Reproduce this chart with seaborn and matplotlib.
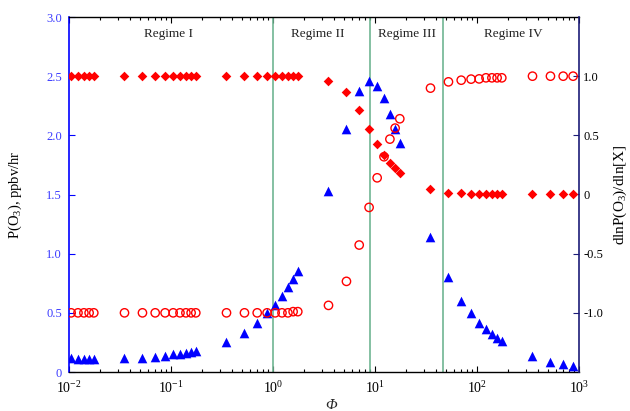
import matplotlib
matplotlib.use("Agg")
import matplotlib.pyplot as plt
import seaborn as sns
import numpy as np
from matplotlib.ticker import FixedLocator, LogLocator, NullFormatter

# ---------------- data ----------------
phi = [0.0105, 0.01225, 0.014, 0.01575, 0.0175,
       0.035, 0.0525, 0.07, 0.0875, 0.105, 0.1225, 0.14, 0.1575, 0.175,
       0.35, 0.525, 0.7, 0.875, 1.05, 1.225, 1.4, 1.575, 1.75,
       3.5, 5.25, 7.0, 8.75, 10.5, 12.25, 14.0, 15.75, 17.5,
       35, 52.5, 70, 87.5, 105, 122.5, 140, 157.5, 175,
       350, 525, 700, 875]

p_o3 = [0.12, 0.11, 0.11, 0.11, 0.11,
        0.115, 0.115, 0.124, 0.138, 0.152, 0.152, 0.163, 0.172, 0.18,
        0.256, 0.332, 0.411, 0.496, 0.563, 0.642, 0.72, 0.788, 0.856,
        1.526, 2.055, 2.376, 2.46, 2.421, 2.317, 2.179, 2.05, 1.931,
        1.137, 0.80, 0.602, 0.501, 0.411, 0.36, 0.318, 0.284, 0.259,
        0.135, 0.082, 0.065, 0.053]

sens_diamond = [1.0, 1.0, 1.0, 1.0, 1.0,
                1.0, 1.0, 1.0, 1.0, 1.0, 1.0, 1.0, 1.0, 1.0,
                1.0, 1.0, 1.0, 1.0, 1.0, 1.0, 1.0, 1.0, 1.0,
                0.958, 0.862, 0.71, 0.555, 0.428, 0.33, 0.268, 0.223, 0.178,
                0.043, 0.014, 0.014, 0.006, 0.006, 0.006, 0.001, 0.0, 0.0,
                0.0, 0.0, 0.0, 0.0]

sens_circle = [-1.0, -1.0, -1.0, -1.0, -1.0,
               -1.0, -1.0, -1.0, -1.0, -1.0, -1.0, -1.0, -1.0, -1.0,
               -1.0, -1.0, -1.0, -1.0, -1.0, -1.0, -1.0, -0.99, -0.99,
               -0.937, -0.734, -0.427, -0.109, 0.141, 0.319, 0.468, 0.561, 0.64,
               0.899, 0.952, 0.966, 0.975, 0.977, 0.986, 0.986, 0.986, 0.986,
               1.0, 1.0, 1.0, 1.0]

regime_bounds = [1.0, 8.9, 46.0]
regime_names = ["Regime I", "Regime II", "Regime III", "Regime IV"]
regime_label_x = [0.0935, 2.76, 20.6, 225.0]

x_ticks = [1e-2, 1e-1, 1e0, 1e1, 1e2, 1e3]
x_tick_labels = [r"$10^{-2}$", r"$10^{-1}$", r"$10^{0}$", r"$10^{1}$", r"$10^{2}$", r"$10^{3}$"]
left_ticks = [0, 0.5, 1.0, 1.5, 2.0, 2.5, 3.0]
left_tick_labels = ["0", "0.5", "1.0", "1.5", "2.0", "2.5", "3.0"]
right_ticks = [-1.0, -0.5, 0, 0.5, 1.0]
right_tick_labels = ["-1.0", "-0.5", "0", "0.5", "1.0"]

# ---------------- style ----------------
sns.set_style("ticks")
plt.rcParams["font.family"] = ["Liberation Serif", "DejaVu Serif"]
plt.rcParams["mathtext.fontset"] = "custom"
plt.rcParams["mathtext.rm"] = "Liberation Serif"
plt.rcParams["mathtext.it"] = "Liberation Serif:italic"

RED = "#ff0000"
BLUE = "#0000ff"
GREEN = "#6fb592"
NAVY = "#1c1c78"

fig = plt.figure(figsize=(6.3, 4.11), dpi=100)
ax = fig.add_axes([69/630, 1 - 372/411, (579-69)/630, (372-17)/411])
ax2 = ax.twinx()

# regime boundary lines
for b in regime_bounds:
    ax.axvline(b, color=GREEN, lw=1.2, zorder=1)

# blue triangles on left axis
sns.scatterplot(x=phi, y=p_o3, ax=ax, marker="^", color=BLUE, s=48,
                linewidth=0, zorder=3, legend=False)

# red markers on right axis
sns.scatterplot(x=phi, y=sens_circle, ax=ax2, marker="o", color=RED, s=36,
                linewidth=1.0, zorder=3, legend=False)
coll = ax2.collections[-1]
coll.set_facecolor("none")
coll.set_edgecolor(RED)
sns.scatterplot(x=phi, y=sens_diamond, ax=ax2, marker="D", color=RED, s=24,
                linewidth=0, zorder=4, legend=False)

ax.set_xscale("log")
ax.set_xlim(1e-2, 1e3)
ax.set_ylim(0, 3.0)
ax2.set_ylim(-1.5, 1.5)

ax.xaxis.set_major_locator(FixedLocator(x_ticks))
ax.set_xticklabels(x_tick_labels, fontsize=10)
ax.xaxis.set_minor_locator(LogLocator(base=10, subs=np.arange(2, 10)))
ax.xaxis.set_minor_formatter(NullFormatter())

ax.set_yticks(left_ticks)
ax.set_yticklabels(left_tick_labels, fontsize=9, color="#3b3bff")
ax2.set_yticks(right_ticks)
ax2.set_yticklabels(right_tick_labels, fontsize=9, color="black")

ax.tick_params(axis="x", which="both", direction="in", top=True, bottom=True,
               colors="black", pad=6)
ax.tick_params(axis="x", which="major", length=4, width=0.8)
ax.tick_params(axis="x", which="minor", length=2.5, width=0.8)
ax.tick_params(axis="y", which="both", direction="in", left=True, right=False,
               length=4, width=0.8, color=BLUE, pad=5)
ax2.tick_params(axis="y", which="both", direction="in", right=True, left=False,
                length=4, width=0.8, color=NAVY, pad=3)

for name in ["top", "bottom"]:
    ax.spines[name].set_color("black")
    ax.spines[name].set_linewidth(1.0)
    ax2.spines[name].set_visible(False)
ax.spines["left"].set_color(BLUE)
ax.spines["left"].set_linewidth(1.2)
ax.spines["right"].set_visible(False)
ax2.spines["left"].set_visible(False)
ax2.spines["right"].set_color(NAVY)
ax2.spines["right"].set_linewidth(1.2)
ax2.spines["right"].set_visible(True)
ax.spines["top"].set_visible(True)

ax.set_xlabel("Φ", fontsize=11, fontstyle="italic")
ax.xaxis.set_label_coords((331 - 69) / 510, -(399 - 372) / 355)
ax.set_ylabel(r"P(O$_3$), ppbv/hr", fontsize=10.5, color="black")
ax.yaxis.set_label_coords(-(69 - 24) / 510, 0.5)
ax2.set_ylabel(r"dlnP(O$_3$)/dln[X]", fontsize=11, color="black")
ax2.yaxis.set_label_coords(1 + (612 - 579) / 510, 0.5)

for xname, name in zip(regime_label_x, regime_names):
    ax.text(xname, 2.86, name, fontsize=9.5, ha="center", va="center", color="#222222")

fig.savefig("out.png", dpi=100)
